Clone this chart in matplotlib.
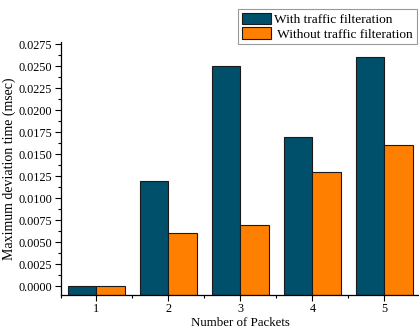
import numpy as np
import matplotlib
matplotlib.use("Agg")
import matplotlib.pyplot as plt
from matplotlib.ticker import MultipleLocator, FormatStrFormatter

# valores medidos
packets = [1, 2, 3, 4, 5]
with_filter = [0.0, 0.012, 0.025, 0.017, 0.026]
without_filter = [0.0, 0.006, 0.007, 0.013, 0.016]
series_labels = ["With traffic filteration", " Without traffic filteration"]

plt.rcParams['font.family'] = ['Liberation Serif', 'DejaVu Serif']

fig = plt.figure(figsize=(4.19, 3.29), dpi=100)
ax = fig.add_axes([0.1444, 0.1033, 0.859, 0.769])

y_min, y_max = -0.001, 0.02776
x = np.array(packets, dtype=float)
w = 0.4

# barras partem da base do eixo
ax.bar(x - w / 2, np.array(with_filter) - y_min, w, bottom=y_min,
       color='#00506b', edgecolor='#1a1a1a', linewidth=0.8,
       label=series_labels[0], zorder=2)
ax.bar(x + w / 2, np.array(without_filter) - y_min, w, bottom=y_min,
       color='#ff8000', edgecolor='#1a1a1a', linewidth=0.8,
       label=series_labels[1], zorder=2)

ax.set_xlim(0.5, 5.5)
ax.set_ylim(y_min, y_max)
ax.set_xticks(packets)
ax.xaxis.set_minor_locator(MultipleLocator(0.5))
ax.yaxis.set_major_locator(MultipleLocator(0.0025))
ax.yaxis.set_minor_locator(MultipleLocator(0.00125))
ax.yaxis.set_major_formatter(FormatStrFormatter('%.4f'))

for s in ('top', 'right'):
    ax.spines[s].set_visible(False)
for s in ('left', 'bottom'):
    ax.spines[s].set_linewidth(0.9)

ax.tick_params(axis='both', which='major', direction='out', length=4,
               width=0.8, labelsize=8.8, pad=2)
ax.tick_params(axis='both', which='minor', direction='out', length=2,
               width=0.8)

ax.set_xlabel("Number of Packets", fontsize=9.3, labelpad=1)
ax.set_ylabel("Maximum deviation time (msec)", fontsize=10, labelpad=2)

leg = fig.legend(loc='upper right', bbox_to_anchor=(0.995, 0.9726),
                 fontsize=9.6, frameon=True, fancybox=False,
                 handlelength=2.2, handleheight=0.95, handletextpad=0.25,
                 labelspacing=0.1, borderpad=0.28, borderaxespad=0)
leg.get_frame().set_edgecolor('#808080')
leg.get_frame().set_linewidth(0.8)

fig.savefig("out.png", dpi=100)
